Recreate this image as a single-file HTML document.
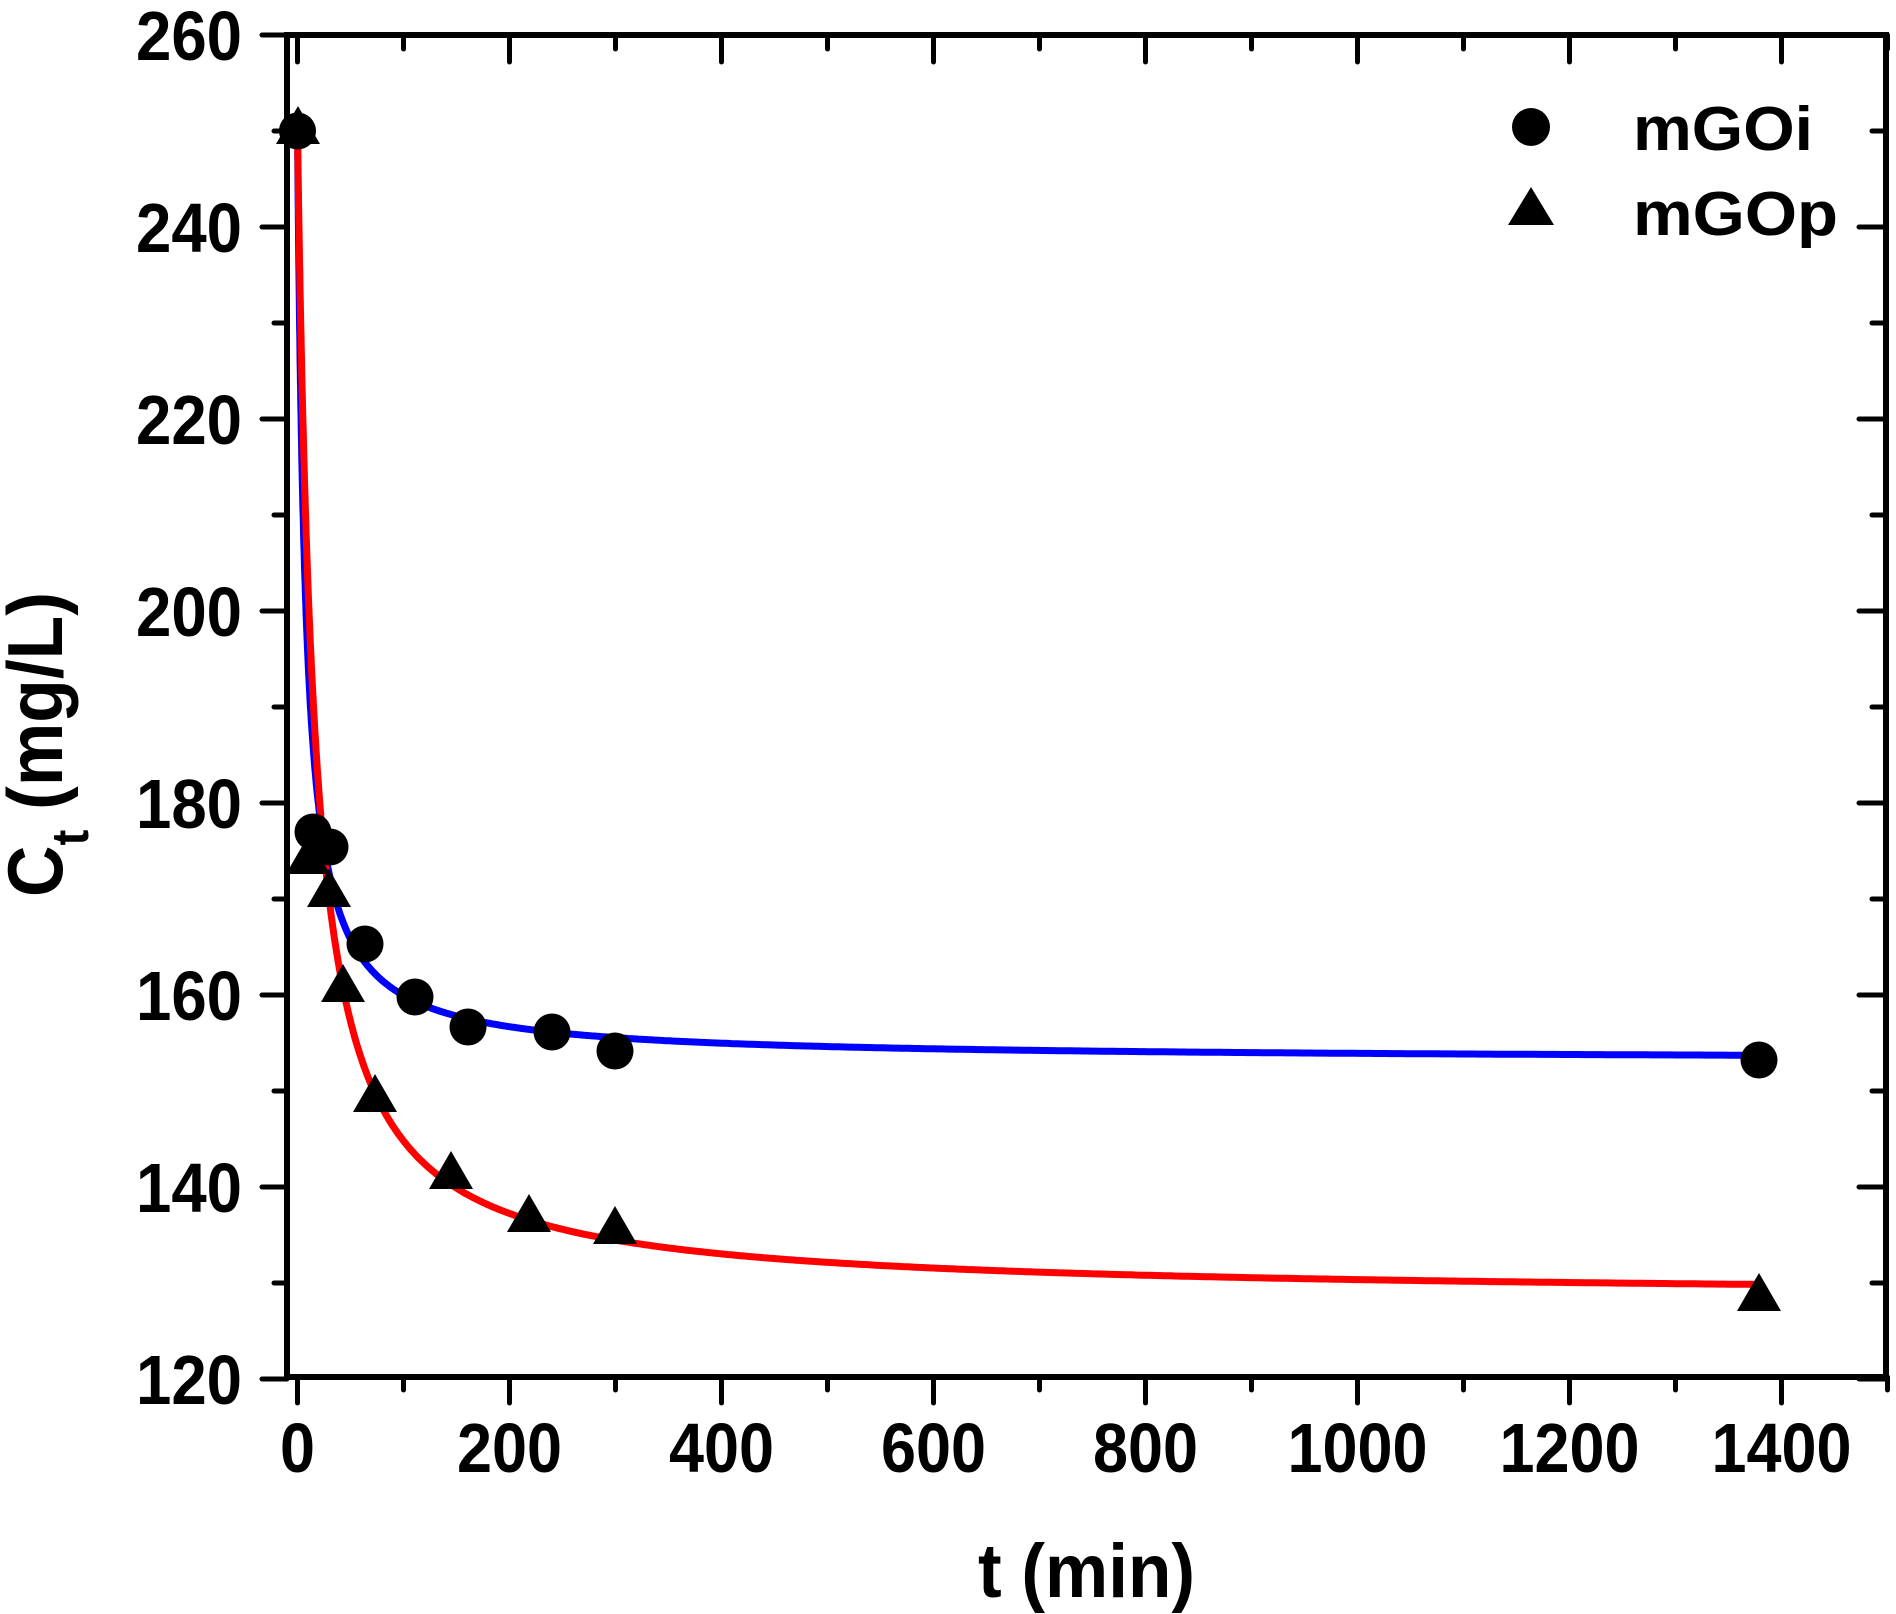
<!DOCTYPE html>
<html><head><meta charset="utf-8"><style>
html,body{margin:0;padding:0;background:#fff;}
svg{display:block;}
text{font-family:"Liberation Sans",Arial,sans-serif;font-weight:bold;fill:#000;}
</style></head><body>
<svg id="s" width="1896" height="1614" viewBox="0 0 1896 1614" xmlns="http://www.w3.org/2000/svg">
<g id="ticks" stroke="#000" stroke-width="5" stroke-linecap="round"></g>
<rect x="287" y="35" width="1599" height="1342" fill="none" stroke="#000" stroke-width="6"/>
<g id="labels" font-size="70"></g>
<path id="blue" fill="none" stroke="#0000ff" stroke-width="7"/>
<path id="red" fill="none" stroke="#ff0000" stroke-width="7"/>
<g id="marks" fill="#000"></g>
<circle cx="1531" cy="127" r="19" fill="#000"/>
<polygon points="1531,187 1508,225 1554,225" fill="#000"/>
<text x="1633" y="150" font-size="62" textLength="180" lengthAdjust="spacingAndGlyphs">mGOi</text>
<text x="1633" y="235" font-size="62" textLength="205" lengthAdjust="spacingAndGlyphs">mGOp</text>
<text x="978" y="1597" font-size="76" textLength="217" lengthAdjust="spacingAndGlyphs">t (min)</text>
<g transform="translate(62,897) rotate(-90)">
<text x="0" y="0" font-size="78" textLength="305" lengthAdjust="spacingAndGlyphs">C<tspan font-size="52" dy="26">t</tspan><tspan dy="-26"> (mg/L)</tspan></text>
</g>
</svg>
<script>
var NS="http://www.w3.org/2000/svg";
function X(t){return 297.5+t*1.06;}
function Y(c){return 35+(260-c)*9.6;}
function el(p,n,a,txt){var e=document.createElementNS(NS,n);for(var k in a)e.setAttribute(k,a[k]);if(txt!==undefined)e.textContent=txt;document.getElementById(p).appendChild(e);return e;}
for(var c=120;c<=260;c+=10){var y=Y(c),maj=(c%20==0);
 el("ticks","line",{x1:287-(maj?25:13),y1:y,x2:287,y2:y});
 el("ticks","line",{x1:1886,y1:y,x2:1886-(maj?27:14),y2:y});
 if(maj)el("labels","text",{x:242,y:y+25,"text-anchor":"end",textLength:106,lengthAdjust:"spacingAndGlyphs"},""+c);
}
for(var t=0;t<=1500;t+=100){var x=X(t),maj=(t%200==0);
 el("ticks","line",{x1:x,y1:1377,x2:x,y2:1377+(maj?26:13)});
 el("ticks","line",{x1:x,y1:35,x2:x,y2:35+(maj?27:14)});
 if(maj&&t<=1400){var s=""+t;el("labels","text",{x:x,y:1472,"text-anchor":"middle",textLength:s.length*35,lengthAdjust:"spacingAndGlyphs"},s);}
}
function curve(id,A,b){var d="";for(var i=0;i<=600;i++){var t=Math.pow(i/600,2.5)*1380;var c=250-A*t/(b+t);d+=(i?"L":"M")+X(t).toFixed(1)+","+Y(c).toFixed(1);}document.getElementById(id).setAttribute("d",d);}
curve("blue",96.8,7.5);curve("red",121.5,15.5);
var circ=[[297.5,131],[313,832],[330,847],[365,944],[415,997],[468,1027],[552,1032],[615,1051],[1759,1060]];
circ.forEach(function(p){el("marks","circle",{cx:p[0],cy:p[1],r:18.5});});
var tri=[[298,130],[308,860],[329,893],[343,988],[375,1098],[451,1175],[529,1218],[615,1230],[1759,1297]];
tri.forEach(function(p){var x=p[0],y=p[1];el("marks","polygon",{points:(x)+","+(y-24)+" "+(x-22)+","+(y+14)+" "+(x+22)+","+(y+14)});});
</script>
</body></html>
